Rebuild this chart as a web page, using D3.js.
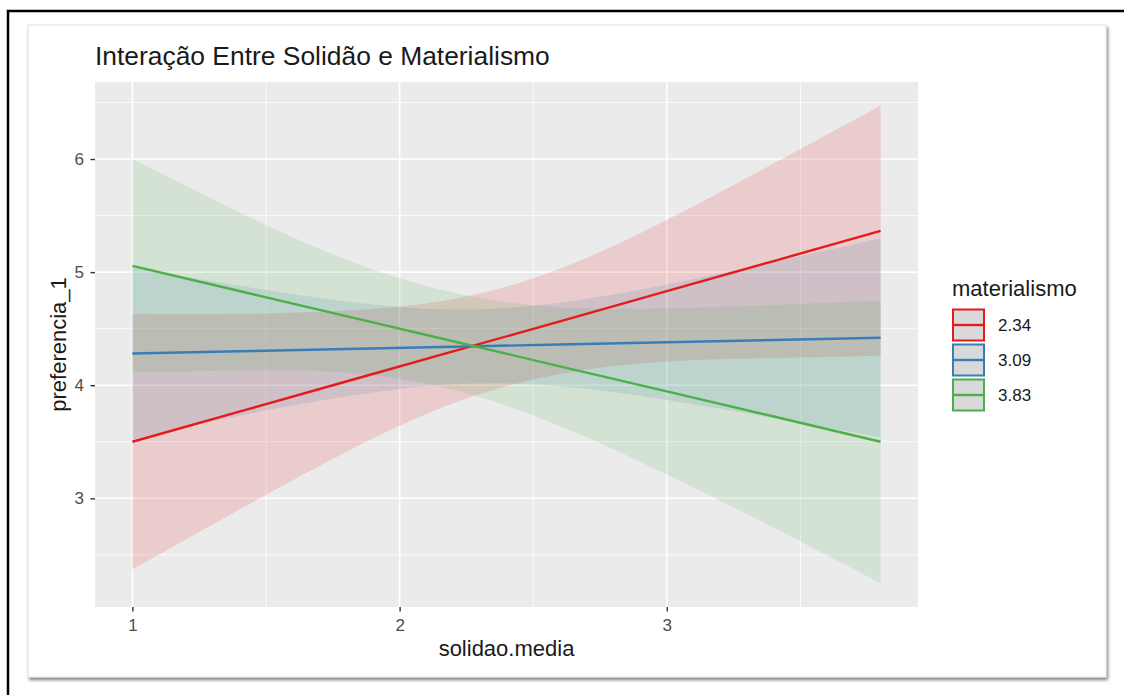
<!DOCTYPE html>
<html>
<head>
<meta charset="utf-8">
<script src="https://cdn.jsdelivr.net/npm/d3@7"></script>
<style>
  html, body { margin: 0; padding: 0; background: #ffffff; }
  svg { display: block; font-family: "Liberation Sans", Arial, Helvetica, sans-serif; }
</style>
</head>
<body>
<svg id="chart" width="1124" height="695"></svg>
<script>
// Predicted preferencia_1 across solidao.media, one line per materialismo level
const titleText = "Interação Entre Solidão e Materialismo";
const xLabel = "solidao.media";
const yLabel = "preferencia_1";
const legendTitle = "materialismo";

const groups = ["2.34", "3.09", "3.83"];
const colors = ["#E41A1C", "#377EB8", "#4DAF4A"];

const xTicks = [1, 2, 3];
const yTicks = [3, 4, 5, 6];

const solidao = [1.0, 1.4, 1.8, 2.2, 2.6, 3.0, 3.4, 3.8];

const fit234  = [3.50, 3.766, 4.033, 4.299, 4.565, 4.832, 5.098, 5.365];
const low234  = [2.37, 2.90, 3.41, 3.84, 4.10, 4.21, 4.24, 4.26];
const high234 = [4.63, 4.63, 4.66, 4.76, 5.03, 5.46, 5.96, 6.47];

const fit309  = [4.28, 4.30, 4.32, 4.34, 4.36, 4.38, 4.40, 4.42];
const low309  = [3.52, 3.73, 3.90, 4.01, 3.99, 3.87, 3.71, 3.54];
const high309 = [5.04, 4.88, 4.74, 4.67, 4.73, 4.89, 5.09, 5.30];

const fit383  = [5.055, 4.833, 4.611, 4.389, 4.167, 3.945, 3.723, 3.50];
const low383  = [4.11, 4.13, 4.11, 3.96, 3.64, 3.21, 2.74, 2.25];
const high383 = [6.00, 5.53, 5.11, 4.82, 4.69, 4.68, 4.71, 4.75];

const fits = [fit234, fit309, fit383];
const lows = [low234, low309, low383];
const highs = [high234, high309, high383];

const series = groups.map((g, i) => ({
  key: g,
  color: colors[i],
  points: solidao.map((x, j) => ({ x, fit: fits[i][j], low: lows[i][j], high: highs[i][j] }))
}));

const svg = d3.select("#chart");

// outer frame
svg.append("path")
  .attr("d", "M8,695 V11 H1124")
  .attr("fill", "none")
  .attr("stroke", "#000")
  .attr("stroke-width", 2.5);

// card with soft shadow
const defs = svg.append("defs");
const f = defs.append("filter").attr("id", "cardShadow")
  .attr("x", "-5%").attr("y", "-5%").attr("width", "110%").attr("height", "112%");
f.append("feDropShadow")
  .attr("dx", 1.5).attr("dy", 2.5).attr("stdDeviation", 1.6)
  .attr("flood-color", "#000").attr("flood-opacity", 0.5);

svg.append("rect")
  .attr("x", 28).attr("y", 25).attr("width", 1078).attr("height", 652)
  .attr("fill", "#fff")
  .attr("stroke", "#e2e2e2").attr("stroke-width", 1)
  .attr("filter", "url(#cardShadow)");

// panel geometry
const panel = { left: 95, right: 918, top: 82, bottom: 607 };

function expanded(ext) {
  const pad = (ext[1] - ext[0]) * 0.05;
  return [ext[0] - pad, ext[1] + pad];
}

const x = d3.scaleLinear()
  .domain(expanded(d3.extent(solidao)))
  .range([panel.left, panel.right]);

const yExtent = [d3.min(lows.flat()), d3.max(highs.flat())];
const y = d3.scaleLinear()
  .domain(expanded(yExtent))
  .range([panel.bottom, panel.top]);

// panel background
svg.append("rect")
  .attr("x", panel.left).attr("y", panel.top)
  .attr("width", panel.right - panel.left).attr("height", panel.bottom - panel.top)
  .attr("fill", "#EBEBEB");

// minor and major grid
const xMinor = [0.5, 1.5, 2.5, 3.5].filter(v => v >= x.domain()[0] && v <= x.domain()[1]);
const yMinor = [2.5, 3.5, 4.5, 5.5, 6.5].filter(v => v >= y.domain()[0] && v <= y.domain()[1]);
const grid = svg.append("g");
grid.selectAll(".xminor").data(xMinor).join("line")
  .attr("x1", d => x(d)).attr("x2", d => x(d))
  .attr("y1", panel.top).attr("y2", panel.bottom)
  .attr("stroke", "#fff").attr("stroke-width", 0.8);
grid.selectAll(".yminor").data(yMinor).join("line")
  .attr("y1", d => y(d)).attr("y2", d => y(d))
  .attr("x1", panel.left).attr("x2", panel.right)
  .attr("stroke", "#fff").attr("stroke-width", 0.8);
grid.selectAll(".xmajor").data(xTicks).join("line")
  .attr("x1", d => x(d)).attr("x2", d => x(d))
  .attr("y1", panel.top).attr("y2", panel.bottom)
  .attr("stroke", "#fff").attr("stroke-width", 1.6);
grid.selectAll(".ymajor").data(yTicks).join("line")
  .attr("y1", d => y(d)).attr("y2", d => y(d))
  .attr("x1", panel.left).attr("x2", panel.right)
  .attr("stroke", "#fff").attr("stroke-width", 1.6);

// confidence ribbons
const band = d3.area()
  .x(d => x(d.x))
  .y0(d => y(d.low))
  .y1(d => y(d.high))
  .curve(d3.curveNatural);

svg.append("g").selectAll("path").data(series).join("path")
  .attr("d", d => band(d.points))
  .attr("fill", d => d.color)
  .attr("fill-opacity", 0.15);

// fitted lines
const fitLine = d3.line().x(d => x(d.x)).y(d => y(d.fit));
svg.append("g").selectAll("path").data(series).join("path")
  .attr("d", d => fitLine(d.points))
  .attr("fill", "none")
  .attr("stroke", d => d.color)
  .attr("stroke-width", 2.4);

// axes
const xAxis = svg.append("g")
  .attr("transform", `translate(0,${panel.bottom})`)
  .call(d3.axisBottom(x).tickValues(xTicks).tickFormat(d3.format("d")).tickSize(4.5).tickPadding(7));
const yAxis = svg.append("g")
  .attr("transform", `translate(${panel.left},0)`)
  .call(d3.axisLeft(y).tickValues(yTicks).tickFormat(d3.format("d")).tickSize(4.5).tickPadding(6.5));

[xAxis, yAxis].forEach(ax => {
  ax.attr("font-size", null).attr("font-family", null);
  ax.select(".domain").remove();
  ax.selectAll(".tick line").attr("stroke", "#333").attr("stroke-width", 1.4);
  ax.selectAll(".tick text")
    .attr("fill", "#4D4D4D")
    .style("font-size", "17px");
});

// title and axis titles
svg.append("text")
  .attr("x", panel.left).attr("y", 65)
  .attr("fill", "#1a1a1a")
  .style("font-size", "26.4px")
  .text(titleText);

svg.append("text")
  .attr("x", (panel.left + panel.right) / 2).attr("y", 656)
  .attr("text-anchor", "middle")
  .attr("fill", "#1a1a1a")
  .style("font-size", "22px")
  .text(xLabel);

svg.append("text")
  .attr("transform", `translate(66,${(panel.top + panel.bottom) / 2}) rotate(-90)`)
  .attr("text-anchor", "middle")
  .attr("fill", "#1a1a1a")
  .style("font-size", "22px")
  .text(yLabel);

// legend
const legend = svg.append("g").attr("transform", "translate(952,0)");
legend.append("text")
  .attr("x", 0).attr("y", 296)
  .attr("fill", "#1a1a1a")
  .style("font-size", "22px")
  .text(legendTitle);

const keys = legend.selectAll(".key").data(series).join("g")
  .attr("transform", (d, i) => `translate(0,${325 + i * 35})`);
keys.append("rect")
  .attr("x", 1).attr("y", -15.5).attr("width", 31).attr("height", 31)
  .attr("fill", "#D9D9D9")
  .attr("stroke", d => d.color).attr("stroke-width", 2);
keys.append("line")
  .attr("x1", 1).attr("x2", 32).attr("y1", 0).attr("y2", 0)
  .attr("stroke", d => d.color).attr("stroke-width", 2.4);
keys.append("text")
  .attr("x", 46).attr("y", 0).attr("dy", "0.36em")
  .attr("fill", "#1a1a1a")
  .style("font-size", "17px")
  .text(d => d.key);
</script>
</body>
</html>
